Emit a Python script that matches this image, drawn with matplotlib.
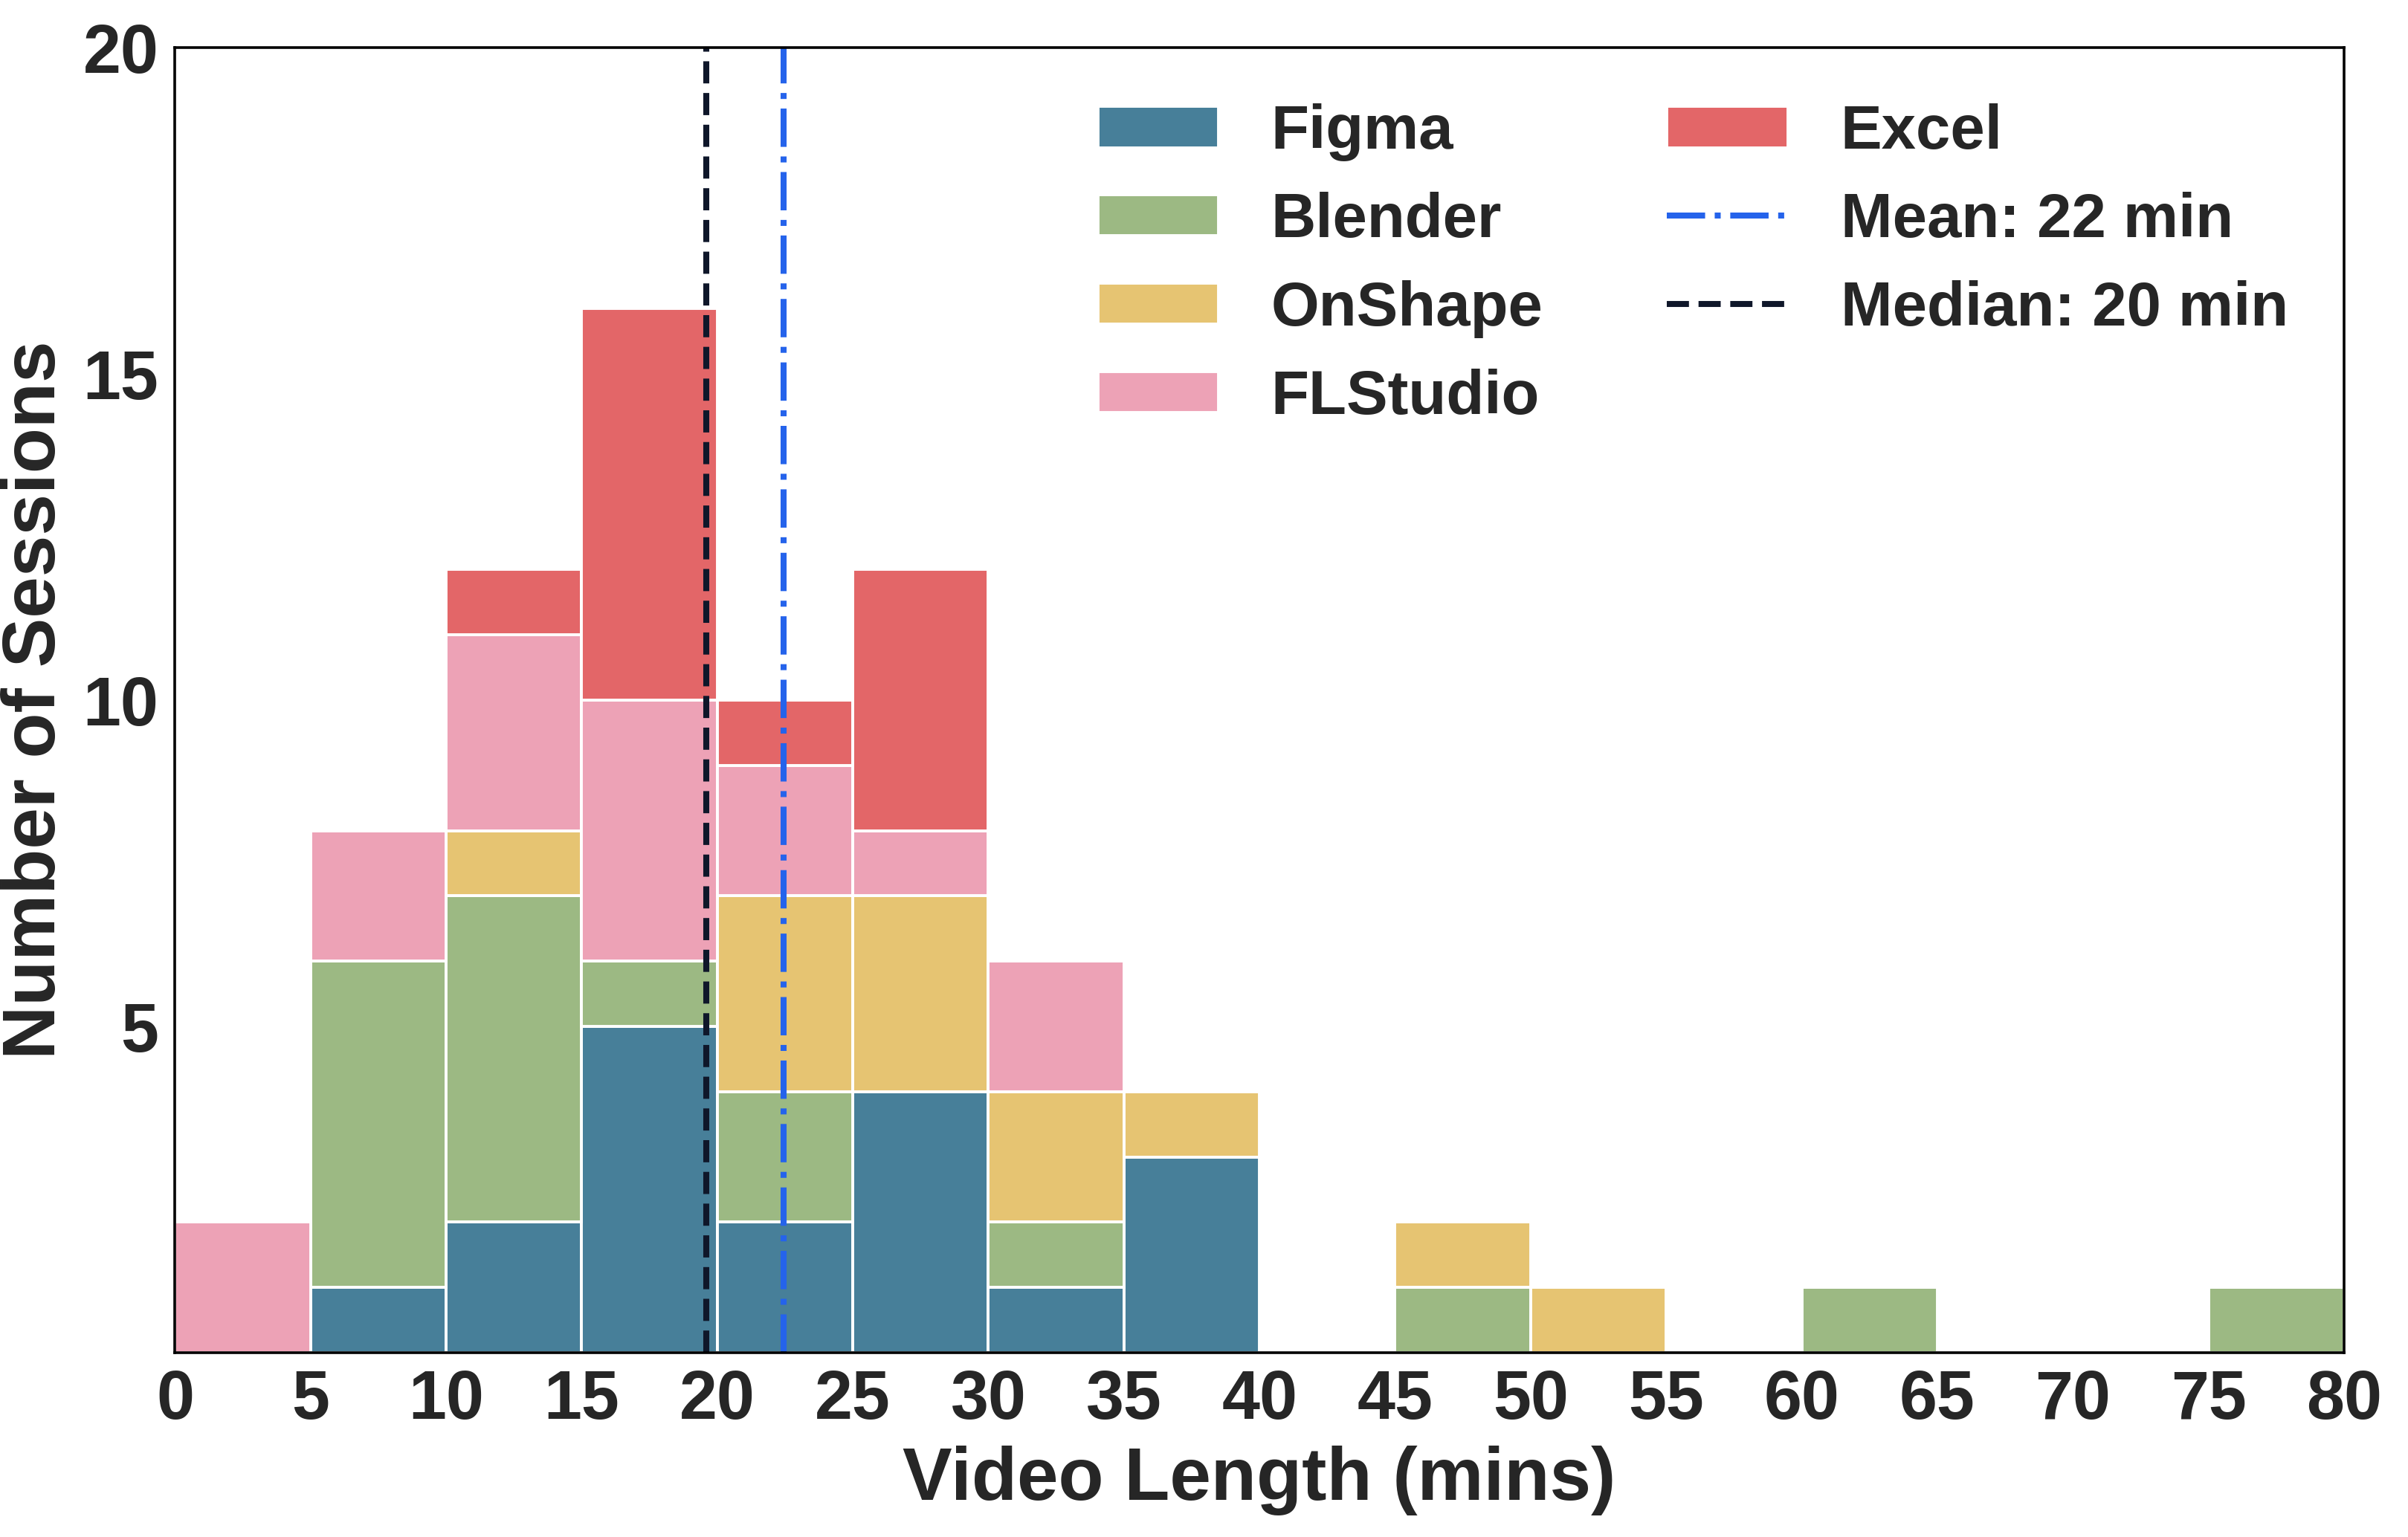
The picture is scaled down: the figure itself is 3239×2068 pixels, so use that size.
import matplotlib
matplotlib.use("Agg")
import matplotlib.pyplot as plt
import numpy as np

plt.rcParams['font.family'] = ['Liberation Sans', 'DejaVu Sans']
plt.rcParams['font.weight'] = 'bold'

bin_edges = list(range(0, 85, 5))  # 0..80
apps = ["Figma", "Blender", "OnShape", "FLStudio", "Excel"]
# counts per 5-minute bin: 0-5, 5-10, ..., 75-80
figma    = [0, 1, 2, 5, 2, 4, 1, 3, 0, 0, 0, 0, 0, 0, 0, 0]
blender  = [0, 5, 5, 1, 2, 0, 1, 0, 0, 1, 0, 0, 1, 0, 0, 1]
onshape  = [0, 0, 1, 0, 3, 3, 2, 1, 0, 1, 1, 0, 0, 0, 0, 0]
flstudio = [2, 2, 3, 4, 2, 1, 2, 0, 0, 0, 0, 0, 0, 0, 0, 0]
excel    = [0, 0, 1, 6, 1, 4, 0, 0, 0, 0, 0, 0, 0, 0, 0, 0]
mean_val = 22.45
median_val = 19.6
mean_label = "Mean: 22 min"
median_label = "Median: 20 min"
x_ticks = list(range(0, 85, 5))
y_ticks = [5, 10, 15, 20]

colors = ["#477f99", "#9cb983", "#e6c472", "#eda2b6", "#e36668"]
series = [figma, blender, onshape, flstudio, excel]

fig = plt.figure(figsize=(3239/200, 2068/200), dpi=200)
ax = fig.add_axes([0.0727, 0.1199, 0.9007, 0.8491])

lefts = np.array(bin_edges[:-1], dtype=float)
widths = np.diff(bin_edges)
bottom = np.zeros(len(lefts))
handles = []
for name, vals, col in zip(apps, series, colors):
    v = np.array(vals, dtype=float)
    b = ax.bar(lefts, v, width=widths, bottom=bottom, align='edge', color=col,
               edgecolor='white', linewidth=1.4, label=name)
    handles.append(b)
    bottom += v

lmean = ax.axvline(mean_val, color="#2563eb", linestyle='-.', linewidth=2.9, label=mean_label)
lmed = ax.axvline(median_val, color="#0f172a", linestyle='--', linewidth=2.9, label=median_label)

ax.set_xlim(0, 80)
ax.set_ylim(0, 20)
ax.set_xticks(x_ticks)
ax.set_yticks(y_ticks)
ax.tick_params(axis='both', length=0, labelsize=33, colors='#262626', pad=8)
for lab in ax.get_xticklabels() + ax.get_yticklabels():
    lab.set_fontweight('bold')
for s in ax.spines.values():
    s.set_color('black')
    s.set_linewidth(1.3)

ax.set_xlabel("Video Length (mins)", fontsize=36, fontweight='bold', color='#262626', labelpad=6)
ax.set_ylabel("Number of Sessions", fontsize=36, fontweight='bold', color='#262626', labelpad=6)

leg_handles = handles[:4] + [handles[4], lmean, lmed]
leg_labels = apps[:4] + [apps[4], mean_label, median_label]
leg = ax.legend(leg_handles, leg_labels, ncol=2, loc='upper right', frameon=False,
                fontsize=30, handlelength=1.95, handleheight=0.65, handletextpad=0.85,
                columnspacing=2.0, labelspacing=0.49, bbox_to_anchor=(1.0, 1.0))
for t in leg.get_texts():
    t.set_color('#262626')
    t.set_fontweight('bold')

fig.savefig("out.png", dpi=200)
